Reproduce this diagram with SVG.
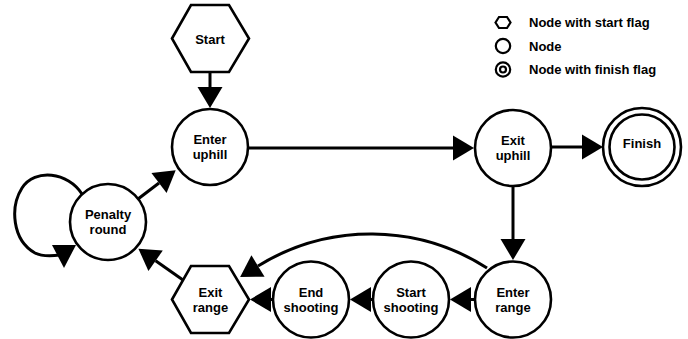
<svg xmlns="http://www.w3.org/2000/svg" width="688" height="339" viewBox="0 0 688 339">
<style>
  .n { fill: #fff; stroke: #000; stroke-width: 2.6; }
  .t { font-family: "Liberation Sans", Arial, sans-serif; font-weight: bold; font-size: 13px; fill: #000; text-anchor: middle; }
  .lt { font-family: "Liberation Sans", Arial, sans-serif; font-weight: bold; font-size: 13px; fill: #000; }
  .e { fill: none; stroke: #000; stroke-width: 3; marker-end: url(#ah); }
  .li { fill: #fff; stroke: #000; stroke-width: 2.2; }
</style>
<defs>
  <marker id="ah" markerUnits="userSpaceOnUse" markerWidth="22" markerHeight="26" refX="0" refY="12.5" orient="auto" overflow="visible">
    <path d="M0,0 L21,12.5 L0,25 Z" fill="#000"/>
  </marker>
</defs>
<rect width="688" height="339" fill="#fff"/>

<g id="legend">
  <polygon class="li" points="495.5,22.5 499,17 507,17 510.5,22.5 507,28 499,28"/>
  <text class="lt" x="529" y="27">Node with start flag</text>
  <circle class="li" cx="503" cy="46" r="7.2"/>
  <text class="lt" x="529" y="51">Node</text>
  <circle class="li" cx="503" cy="69.5" r="7.2"/>
  <circle class="li" cx="503" cy="69.5" r="3"/>
  <text class="lt" x="529" y="74">Node with finish flag</text>
</g>

<g id="connectors">
  <path class="e" d="M210 72 L210 87"/>
  <path class="e" d="M248 148 L453 148"/>
  <path class="e" d="M551 147 L582 147"/>
  <path class="e" d="M513 186 L513 239"/>
  <path class="e" d="M475 299.5 L471 299.5"/>
  <path class="e" d="M373 299.5 L371 299.5"/>
  <path class="e" d="M273 299.5 L271 299.5"/>
  <path class="e" d="M487 268 A215 215 0 0 0 258 266"/>
  <path class="e" d="M183 280 L155.6 260.8"/>
  <path class="e" d="M138 199 L159 183"/>
  <path d="M82 194 C68 172 35 168 22 188 C10 207 12 240 35 253 C43 257 52 256 60 255" fill="none" stroke="#000" stroke-width="3"/>
  <polygon points="52,245 76,245 64,268" fill="#000"/>
</g>

<g id="start">
  <polygon class="n" points="172,38.5 191,5 229,5 249,38.5 229,72 191,72"/>
  <text class="t" x="210" y="43.7">Start</text>
</g>
<g id="enter-uphill">
  <circle class="n" cx="210" cy="147" r="38"/>
  <text class="t" x="210" y="144.2">Enter</text>
  <text class="t" x="210" y="159.2">uphill</text>
</g>
<g id="exit-uphill">
  <circle class="n" cx="513" cy="148" r="38"/>
  <text class="t" x="513" y="145.2">Exit</text>
  <text class="t" x="513" y="160.2">uphill</text>
</g>
<g id="finish">
  <circle class="n" cx="642" cy="147" r="39" stroke-width="2.2"/>
  <circle class="n" cx="642" cy="147" r="32.5" stroke-width="2.2"/>
  <text class="t" x="642" y="148">Finish</text>
</g>
<g id="penalty-round">
  <circle class="n" cx="108" cy="222" r="38"/>
  <text class="t" x="108" y="219.2">Penalty</text>
  <text class="t" x="108" y="234.2">round</text>
</g>
<g id="exit-range">
  <polygon class="n" points="172,299.5 191,266 229,266 249,299.5 229,333 191,333"/>
  <text class="t" x="210.5" y="296.7">Exit</text>
  <text class="t" x="210.5" y="311.7">range</text>
</g>
<g id="end-shooting">
  <circle class="n" cx="311" cy="299.5" r="38"/>
  <text class="t" x="311" y="296.7">End</text>
  <text class="t" x="311" y="311.7">shooting</text>
</g>
<g id="start-shooting">
  <circle class="n" cx="411" cy="299.5" r="38"/>
  <text class="t" x="411" y="296.7">Start</text>
  <text class="t" x="411" y="311.7">shooting</text>
</g>
<g id="enter-range">
  <circle class="n" cx="513" cy="299.5" r="38"/>
  <text class="t" x="513" y="296.7">Enter</text>
  <text class="t" x="513" y="311.7">range</text>
</g>
</svg>
